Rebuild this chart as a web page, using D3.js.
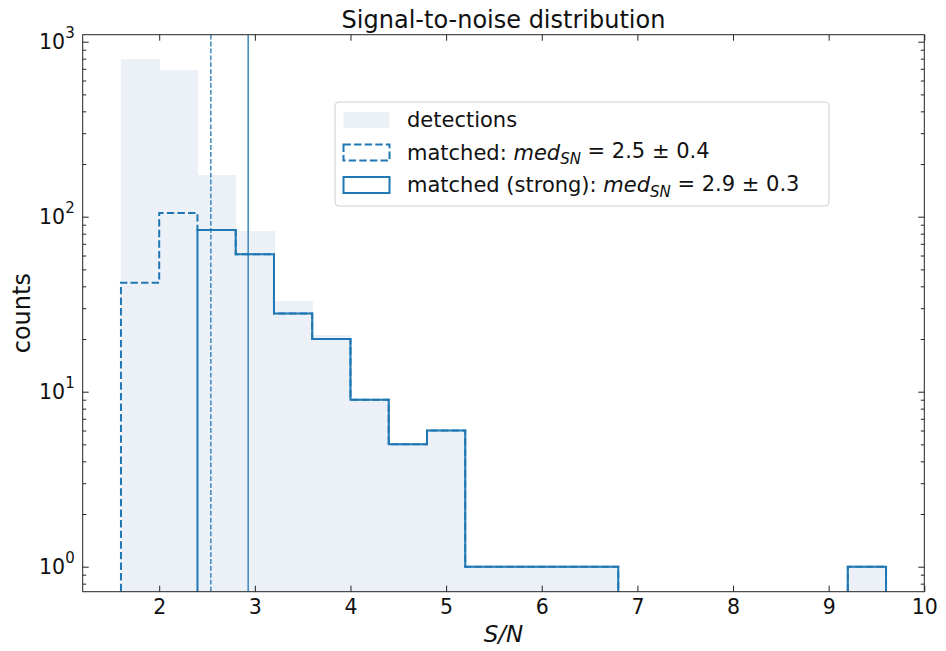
<!DOCTYPE html>
<html>
<head>
<meta charset="utf-8">
<script src="https://cdn.jsdelivr.net/npm/d3@7"></script>
<style>
  body { margin: 0; background: #fff; }
  svg { font-family: "DejaVu Sans", sans-serif; }
</style>
</head>
<body>
<div id="chart"></div>
<script>
// histogram bin edges (S/N), width 0.4
var binEdges = [1.6, 2.0, 2.4, 2.8, 3.2, 3.6, 4.0, 4.4, 4.8, 5.2, 5.6, 6.0, 6.4, 6.8, 7.2, 7.6, 8.0, 8.4, 8.8, 9.2, 9.6];
// counts per bin
var detections = [793, 689, 173, 83, 33, 21, 9, 5, 6, 1, 1, 1, 1, 0, 0, 0, 0, 0, 0, 1];
var matched    = [42, 105, 84, 61, 28, 20, 9, 5, 6, 1, 1, 1, 1, 0, 0, 0, 0, 0, 0, 1];
var strong     = [0, 0, 84, 61, 28, 20, 9, 5, 6, 1, 1, 1, 1, 0, 0, 0, 0, 0, 0, 1];
// medians
var medMatched = 2.54;
var medStrong = 2.93;
var xTicks = [2, 3, 4, 5, 6, 7, 8, 9, 10];
var yTicks = [1, 10, 100, 1000];
var yExp = ["0", "1", "2", "3"];
var legendLabels = [
    {pre: "detections"},
    {pre: "matched: ", post: " = 2.5 \u00b1 0.4"},
    {pre: "matched (strong): ", post: " = 2.9 \u00b1 0.3"}
];

var W = 946, H = 651;
var margin = {top: 34.7, right: 21.7, bottom: 59.3, left: 82.7},
    width = W - margin.left - margin.right,
    height = H - margin.top - margin.bottom;

var blue = "#1f77b4", fillCol = "#ecf1f8";

var x = d3.scaleLinear().domain([1.2, 10]).range([0, width]);
var y = d3.scaleLog().domain([Math.pow(10, -0.1429), Math.pow(10, 3.04)]).range([height, 0]);

var svg = d3.select("#chart").append("svg")
    .attr("width", W)
    .attr("height", H);

var g = svg.append("g")
    .attr("transform", "translate(" + margin.left + "," + margin.top + ")");

g.append("clipPath").attr("id", "clip")
    .append("rect").attr("width", width).attr("height", height);

var plot = g.append("g").attr("clip-path", "url(#clip)");

// detections as filled bars
var bins = detections.map(function(d, i) {
    return {x0: binEdges[i], x1: binEdges[i + 1], n: d};
}).filter(function(d) { return d.n > 0; });

plot.selectAll(".bar").data(bins).enter()
    .append("rect")
    .attr("class", "bar")
    .attr("x", function(d) { return x(d.x0); })
    .attr("width", function(d) { return x(d.x1) - x(d.x0) + 0.6; })
    .attr("y", function(d) { return y(d.n); })
    .attr("height", function(d) { return height + 10 - y(d.n); })
    .attr("fill", fillCol)
    .attr("shape-rendering", "crispEdges");

// step outline, split in runs of non-zero bins
function stepRuns(counts) {
    var runs = [], cur = null;
    counts.forEach(function(n, i) {
        if (n > 0) {
            if (!cur) { cur = []; runs.push(cur); }
            cur.push({x0: binEdges[i], x1: binEdges[i + 1], n: n});
        } else {
            cur = null;
        }
    });
    return runs.map(function(r) {
        var pts = [[x(r[0].x0), height + 10]];
        r.forEach(function(b) {
            pts.push([x(b.x0), y(b.n)]);
            pts.push([x(b.x1), y(b.n)]);
        });
        pts.push([x(r[r.length - 1].x1), height + 10]);
        return pts;
    });
}

var line = d3.line();

plot.selectAll(".step-matched").data(stepRuns(matched)).enter()
    .append("path")
    .attr("class", "step-matched")
    .attr("d", line)
    .attr("fill", "none")
    .attr("stroke", blue)
    .attr("stroke-width", 2)
    .attr("stroke-dasharray", "7.4,3.2");

plot.selectAll(".step-strong").data(stepRuns(strong)).enter()
    .append("path")
    .attr("class", "step-strong")
    .attr("d", line)
    .attr("fill", "none")
    .attr("stroke", blue)
    .attr("stroke-width", 2);

// median lines
plot.append("line")
    .attr("x1", x(medMatched)).attr("x2", x(medMatched))
    .attr("y1", 0).attr("y2", height)
    .attr("stroke", blue).attr("stroke-width", 1.3)
    .attr("stroke-dasharray", "4.8,2.1");

plot.append("line")
    .attr("x1", x(medStrong)).attr("x2", x(medStrong))
    .attr("y1", 0).attr("y2", height)
    .attr("stroke", blue).attr("stroke-width", 1.3);

// minor y ticks
var minor = [];
[0.1, 1, 10, 100].forEach(function(dec) {
    for (var k = 2; k <= 9; k++) {
        var v = dec * k;
        if (v >= y.domain()[0] && v <= y.domain()[1]) minor.push(v);
    }
});

// axes (ticks point inward)
var xAxis = g.append("g")
    .attr("transform", "translate(0," + height + ")")
    .call(d3.axisBottom(x).tickValues(xTicks).tickSize(-6).tickPadding(8).tickFormat(d3.format("d")));
g.append("g")
    .call(d3.axisTop(x).tickValues(xTicks).tickSize(-6).tickFormat(""));

g.append("g")
    .call(d3.axisLeft(y).tickValues(yTicks).tickSize(-6).tickFormat(""));
g.append("g")
    .call(d3.axisLeft(y).tickValues(minor).tickSize(-3.5).tickFormat(""));
g.append("g")
    .attr("transform", "translate(" + width + ",0)")
    .call(d3.axisRight(y).tickValues(yTicks).tickSize(-6).tickFormat(""));
g.append("g")
    .attr("transform", "translate(" + width + ",0)")
    .call(d3.axisRight(y).tickValues(minor).tickSize(-3.5).tickFormat(""));

g.selectAll(".domain").remove();
g.selectAll(".tick line").attr("stroke", "#222").attr("stroke-width", 1);

xAxis.selectAll("text")
    .attr("font-size", 20.5)
    .attr("fill", "#111")
    .attr("font-family", "DejaVu Sans");

// frame
g.append("rect")
    .attr("width", width).attr("height", height)
    .attr("fill", "none").attr("stroke", "#222").attr("stroke-width", 1);

// y tick labels 10^n
var ylab = g.append("g").selectAll("text").data(yTicks).enter()
    .append("text")
    .attr("x", -8)
    .attr("y", function(d) { return y(d); })
    .attr("dy", "0.35em")
    .attr("text-anchor", "end")
    .attr("font-size", 20.5)
    .attr("fill", "#111");
ylab.append("tspan").text("10");
ylab.append("tspan")
    .attr("font-size", 15)
    .attr("dy", "-0.75em")
    .text(function(d, i) { return yExp[i]; });

// title and axis labels
svg.append("text")
    .attr("x", margin.left + width / 2)
    .attr("y", 28)
    .attr("text-anchor", "middle")
    .attr("font-size", 24)
    .attr("fill", "#111")
    .text("Signal-to-noise distribution");

svg.append("text")
    .attr("x", margin.left + width / 2)
    .attr("y", 642)
    .attr("text-anchor", "middle")
    .attr("font-size", 23)
    .attr("font-style", "italic")
    .attr("fill", "#111")
    .text("S/N");

svg.append("text")
    .attr("transform", "translate(30," + (margin.top + height / 2) + ") rotate(-90)")
    .attr("text-anchor", "middle")
    .attr("font-size", 24)
    .attr("fill", "#111")
    .text("counts");

// legend
var legend = svg.append("g").attr("transform", "translate(335,102)");
legend.append("rect")
    .attr("width", 494).attr("height", 104)
    .attr("rx", 4)
    .attr("fill", "#fff").attr("fill-opacity", 0.8)
    .attr("stroke", "#d0d0d0").attr("stroke-width", 1);

var rowY = [18, 50.5, 83];
var items = legend.selectAll(".item").data(legendLabels).enter()
    .append("g")
    .attr("class", "item")
    .attr("transform", function(d, i) { return "translate(0," + rowY[i] + ")"; });

items.append("rect")
    .attr("x", 8.5).attr("y", -8)
    .attr("width", 46).attr("height", 16)
    .attr("fill", function(d, i) { return i === 0 ? fillCol : "none"; })
    .attr("stroke", function(d, i) { return i === 0 ? "none" : blue; })
    .attr("stroke-width", 2)
    .attr("stroke-dasharray", function(d, i) { return i === 1 ? "7.4,3.2" : null; });

var lt = items.append("text")
    .attr("x", 72)
    .attr("dy", "0.35em")
    .attr("font-size", 21)
    .attr("fill", "#111");
lt.append("tspan").text(function(d) { return d.pre; });
lt.filter(function(d) { return d.post; }).each(function(d) {
    var t = d3.select(this);
    t.append("tspan").attr("font-style", "italic").text("med");
    t.append("tspan").attr("font-style", "italic").attr("font-size", 15).attr("dy", "0.3em").text("SN");
    t.append("tspan").attr("dy", "-0.3em").attr("font-size", 21).text(d.post);
});
</script>
</body>
</html>
